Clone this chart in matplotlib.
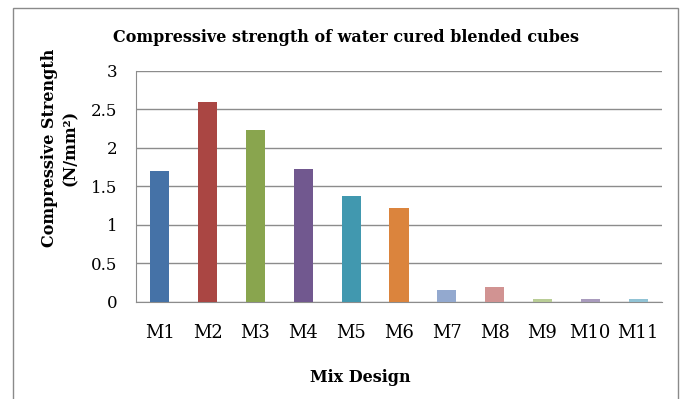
import matplotlib.pyplot as plt
from matplotlib.patches import Rectangle

mixes = ['M1', 'M2', 'M3', 'M4', 'M5', 'M6', 'M7', 'M8', 'M9', 'M10', 'M11']
strength = [1.70, 2.60, 2.23, 1.73, 1.38, 1.22, 0.16, 0.19, 0.035, 0.035, 0.035]
colours = ['#4572A7', '#AA4643', '#89A54E', '#71588F', '#4198AF', '#DB843D',
           '#93A9CF', '#D19392', '#B9CD96', '#A99BBD', '#91C3D5']
yticks = [0, 0.5, 1, 1.5, 2, 2.5, 3]

plt.rcParams['font.family'] = ['DejaVu Serif']

W, H = 683, 399
fig = plt.figure(figsize=(W / 100, H / 100), dpi=100)
ax = fig.add_axes([136 / W, 1 - 302 / H, (662 - 136) / W, (302 - 70.7) / H])

# outer chart border like the Excel chart area
fig.patches.append(Rectangle((13 / W, -0.05), (678 - 13) / W, 1.05 - 8 / H,
                             transform=fig.transFigure, fill=False,
                             edgecolor='#8a8a8a', linewidth=1.0))

x = range(len(mixes))
ax.bar(x, strength, width=0.4, color=colours, zorder=3)

ax.set_xlim(-0.5, len(mixes) - 0.5)
ax.set_ylim(0, 3)
ax.set_yticks(yticks)
ax.set_yticklabels([f'{v:g}' for v in yticks])
ax.set_xticks(list(x))
ax.set_xticklabels(mixes)
ax.tick_params(length=0, colors='black')
ax.tick_params(axis='y', pad=13.5, labelsize=12)
ax.tick_params(axis='x', pad=16, labelsize=13)

ax.grid(axis='y', color='#8c8c8c', linewidth=1.0, zorder=0)
for side in ['top', 'right']:
    ax.spines[side].set_visible(False)
for side in ['left', 'bottom']:
    ax.spines[side].set_color('#8c8c8c')

fig.text(346 / W, 1 - 38 / H, 'Compressive strength of water cured blended cubes',
         ha='center', va='center', fontsize=11.5, fontweight='bold')
fig.text(360 / W, 1 - 377 / H, 'Mix Design',
         ha='center', va='center', fontsize=11.5, fontweight='bold')
fig.text(60 / W, 1 - 148 / H, 'Compressive Strength\n(N/mm²)',
         ha='center', va='center', rotation=90, fontsize=11.5, fontweight='bold',
         linespacing=1.35, multialignment='center')

plt.savefig('out.png', dpi=100)
